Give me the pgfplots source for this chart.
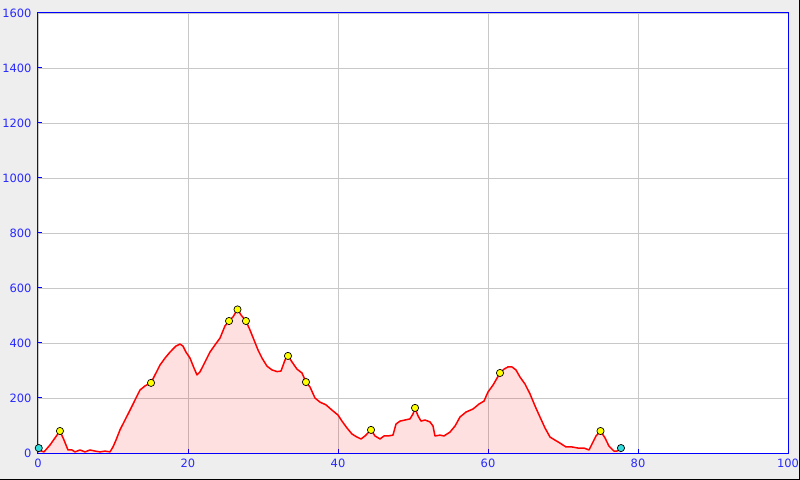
\documentclass[border=0pt]{standalone}
\usepackage{pgfplots}
\pgfplotsset{compat=1.18}
\usepackage{pgfplotstable}
\usepackage{fontspec}
\setmainfont{DejaVu Sans}

\definecolor{bggray}{HTML}{EEEEEE}
\definecolor{gridgray}{HTML}{C8C8C8}
\definecolor{axisblue}{HTML}{0000FF}
\definecolor{labelblue}{HTML}{2828FF}
\definecolor{markyellow}{HTML}{FFFF00}
\definecolor{markcyan}{HTML}{33DDDD}

% elevation profile: distance, height
\pgfplotstableread{
km elev
0.00 11
0.80 4
1.60 29
2.27 55
2.93 80
3.47 47
4.00 11
4.53 11
4.93 4
5.60 11
6.27 4
6.93 11
7.60 7
8.27 4
8.93 7
9.60 4
10.00 22
10.40 47
10.93 84
11.60 120
12.27 156
13.16 205
13.60 229
14.27 244
15.07 255
15.60 284
16.27 320
16.93 345
17.60 367
18.40 389
18.93 396
19.33 389
19.73 367
20.27 345
20.80 309
21.20 284
21.60 295
22.27 331
22.93 367
23.60 393
24.27 418
24.93 462
25.47 480
26.00 495
26.60 522
27.07 502
27.73 480
28.27 447
28.80 411
29.33 375
29.87 345
30.53 316
31.20 302
31.87 296
32.40 298
32.93 338
33.33 353
33.87 331
34.53 305
35.20 291
35.73 258
36.27 240
36.93 200
37.60 185
38.40 175
39.20 156
40.00 138
40.53 116
41.20 91
41.87 69
42.53 58
43.07 51
43.60 62
44.40 84
44.93 62
45.60 51
46.13 62
46.67 62
47.33 65
47.73 105
48.27 116
48.93 120
49.60 124
50.00 142
50.27 164
50.67 135
51.07 116
51.60 120
52.27 113
52.67 98
52.93 62
53.60 65
54.13 62
54.93 76
55.60 98
56.27 131
57.07 149
58.00 160
58.80 178
59.47 189
60.00 222
60.67 247
61.60 291
62.13 305
62.67 313
63.20 313
63.73 302
64.27 276
64.93 251
65.60 215
66.27 171
66.93 131
67.60 91
68.27 58
68.93 47
69.60 36
70.40 22
71.20 22
72.00 18
72.80 18
73.47 11
73.87 33
74.40 62
75.00 80
75.60 55
76.13 25
76.80 7
77.20 7
77.73 18
}\profile

\pgfplotstableread{
km elev
2.93 80
15.07 255
25.47 480
26.60 522
27.73 480
33.33 353
35.73 258
44.40 84
50.27 164
61.60 291
75.00 80
}\waypoints

\pgfplotstableread{
km elev
0.10 18
77.73 18
}\endpoints

\begin{document}
\begin{tikzpicture}
\useasboundingbox (0,0) rectangle (800bp,480bp);
\fill[bggray] (0,0) rectangle (800bp,480bp);
\draw[black, line width=1bp] (0,0.5bp) -- (799.5bp,0.5bp) -- (799.5bp,480bp);
\begin{axis}[
    at={(38bp,27bp)}, anchor=south west,
    scale only axis, width=750bp, height=440bp,
    xmin=0, xmax=100, ymin=0, ymax=1600,
    xtick={0,20,...,100}, ytick={0,200,...,1600},
    grid=major, grid style={gridgray, line width=0.8bp},
    axis line style={axisblue, line width=1bp},
    tick style={axisblue, line width=1bp},
    tick align=inside, major tick length=4bp, tick pos=left,
    ticklabel style={font=\fontsize{11.5}{13}\selectfont, text=labelblue},
    xticklabel style={yshift=-2.5bp},
    yticklabel style={xshift=-3bp},
    /pgf/number format/assume math mode=true,
    /pgf/number format/1000 sep={},
    axis background/.style={fill=white},
    clip=false,
]
\addplot[draw=none, fill=red, fill opacity=0.12] table[x=km, y=elev] {\profile} \closedcycle;
\addplot[red, line width=1.5bp, line join=round] table[x=km, y=elev] {\profile};
\addplot[only marks, mark=*, mark size=3.6bp, mark options={fill=markyellow, draw=black, line width=0.7bp}] table[x=km, y=elev] {\waypoints};
\addplot[only marks, mark=*, mark size=3.6bp, mark options={fill=markcyan, draw=black, line width=0.7bp}] table[x=km, y=elev] {\endpoints};
\end{axis}
\end{tikzpicture}
\end{document}
